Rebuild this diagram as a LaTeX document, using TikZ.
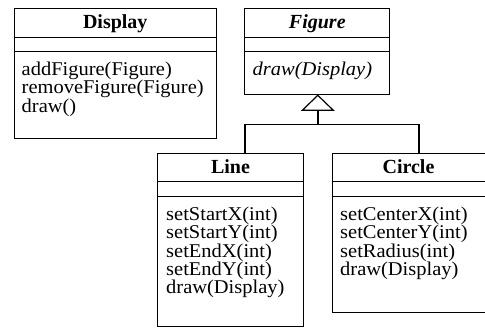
\documentclass[tikz,border=0pt]{standalone}
\usepackage{fontspec}
\setmainfont{Liberation Serif}
\newfontfamily\methfont{Liberation Serif}[FakeStretch=1.05]
\tikzset{
  x=1pt, y=-1pt,
  classbox/.style={draw, line width=1pt, rectangle, inner sep=0pt, anchor=north west},
  compart/.style={line width=1pt},
  title/.style={anchor=base, inner sep=0pt, font=\fontsize{20}{20}\selectfont\bfseries},
  meth/.style={anchor=base west, inner sep=0pt, text height=12pt, text depth=4pt,
    font=\methfont\fontsize{19.5}{20}\selectfont},
  link/.style={line width=1.6pt},
  inherit/.style={line width=1.2pt, fill=white, line join=miter},
}
\begin{document}
\begin{tikzpicture}
\useasboundingbox (0,0) rectangle (485,327);
\clip (0,0) rectangle (485,327);

% Display class
\node[classbox, minimum width=202.5pt, minimum height=129.7pt] (display) at (13.5,8.3) {};
\draw[compart] (display.west |- 0,37) -- (display.east |- 0,37);
\draw[compart] (display.west |- 0,51.7) -- (display.east |- 0,51.7);
\node[title] (display-t) at (display.north |- 0,28.3) {Display};
\foreach \m [count=\i] in {addFigure(Figure), removeFigure(Figure), draw()}
  \node[meth] (display-m\i) at (21.5, 75.5+18.3*\i-18.3) {\m};

% Figure class (abstract)
\node[classbox, minimum width=145pt, minimum height=86pt] (figure) at (244.3,8.3) {};
\draw[compart] (figure.west |- 0,37) -- (figure.east |- 0,37);
\draw[compart] (figure.west |- 0,51.7) -- (figure.east |- 0,51.7);
\node[title, font=\fontsize{20}{20}\selectfont\bfseries\itshape] (figure-t) at (figure.north |- 0,28.3) {Figure};
\node[meth, font=\methfont\fontsize{19.5}{20}\selectfont\itshape] (figure-m1) at (252.5,75.5) {draw(Display)};

% Line class
\node[classbox, minimum width=145.4pt, minimum height=172.2pt] (line) at (157.3,153.3) {};
\draw[compart] (line.west |- 0,181) -- (line.east |- 0,181);
\draw[compart] (line.west |- 0,196.7) -- (line.east |- 0,196.7);
\node[title] (line-t) at (line.north |- 0,173.3) {Line};
\foreach \m [count=\i] in {setStartX(int), setStartY(int), setEndX(int), setEndY(int), draw(Display)}
  \node[meth] (line-m\i) at (166, 220.5+18.3*\i-18.3) {\m};

% Circle class (its right side runs past the edge)
\node[classbox, minimum width=160pt, minimum height=158.7pt] (circle) at (331.5,153.3) {};
\draw[compart] (circle.west |- 0,181) -- (circle.east |- 0,181);
\draw[compart] (circle.west |- 0,196.7) -- (circle.east |- 0,196.7);
\node[title] (circle-t) at (408.5,173.3) {Circle};
\foreach \m [count=\i] in {setCenterX(int), setCenterY(int), setRadius(int), draw(Display)}
  \node[meth] (circle-m\i) at (340, 220.5+18.3*\i-18.3) {\m};

% Generalization: Line and Circle inherit from Figure
\coordinate (tip) at ([xshift=0.5pt]figure.south);
\coordinate (tribase) at ([yshift=-15pt]tip);
\coordinate (fork) at (tip |- 0,124.3);
\coordinate (lj) at (245,124.3);
\coordinate (cj) at (419,124.3);
\draw[link] (tribase) -- (fork);
\draw[link] (lj |- line.north) -- (lj) -- (cj) -- (cj |- circle.north);
\draw[inherit] (tip) -- ([xshift=-15.5pt]tribase) -- ([xshift=15.5pt]tribase) -- cycle;
\end{tikzpicture}
\end{document}
